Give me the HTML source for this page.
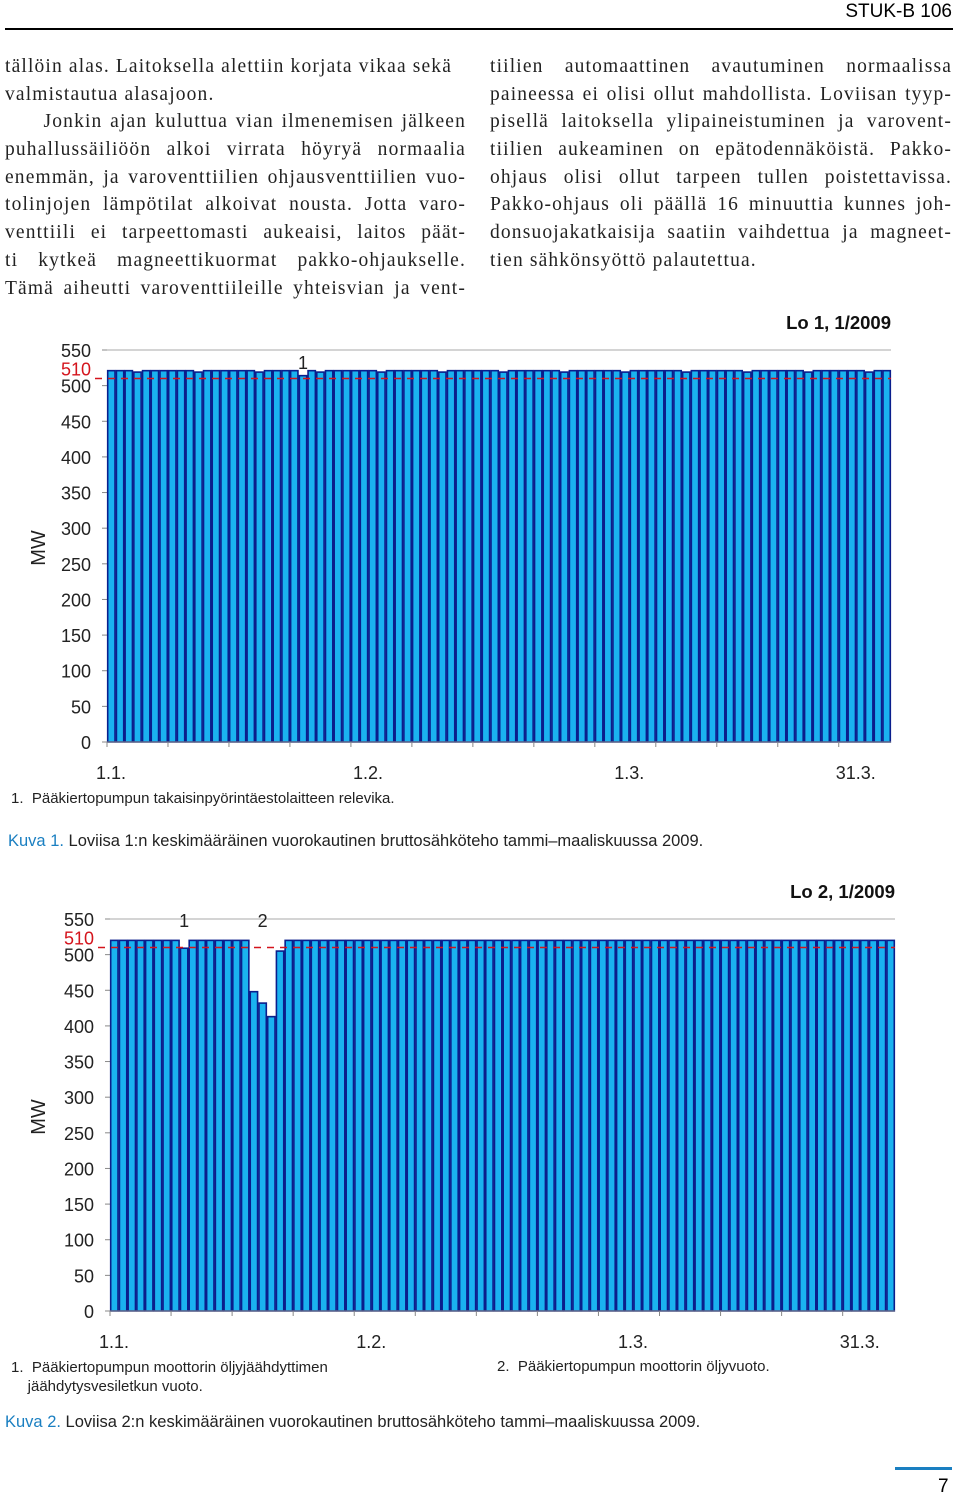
<!DOCTYPE html>
<html><head><meta charset="utf-8"><style>
body{margin:0;width:960px;height:1498px;background:#fff;position:relative;overflow:hidden;font-family:"Liberation Sans",sans-serif}
.t{position:absolute;font-family:"Liberation Serif",serif;font-size:19.5px;letter-spacing:1.15px;line-height:27.7px;color:#222}
.t div{text-align:justify;text-align-last:justify;white-space:nowrap;height:27.7px}
.t div.l{text-align-last:left}
.s{position:absolute;font-size:15px;color:#222}
.cap{position:absolute;font-size:16.5px;color:#222}
.cap b{color:#1a7fc1;font-weight:normal}
svg{position:absolute;left:0;top:0}
</style></head><body>
<div style="position:absolute;right:8px;top:1px;font-size:19px">STUK-B 106</div>
<div style="position:absolute;left:5px;top:28px;width:948px;height:2px;background:#000"></div>
<div class="t" style="left:5px;top:53px;width:461px">
<div class="l">tällöin alas. Laitoksella alettiin korjata vikaa sekä</div>
<div class="l">valmistautua alasajoon.</div>
<div>&nbsp;&nbsp;&nbsp;&nbsp;&nbsp;Jonkin ajan kuluttua vian ilmenemisen jälkeen</div>
<div>puhallussäiliöön alkoi virrata höyryä normaalia</div>
<div>enemmän, ja varoventtiilien ohjausventtiilien vuo-</div>
<div>tolinjojen lämpötilat alkoivat nousta. Jotta varo-</div>
<div>venttiili ei tarpeettomasti aukeaisi, laitos päät-</div>
<div>ti kytkeä magneettikuormat pakko-ohjaukselle.</div>
<div>Tämä aiheutti varoventtiileille yhteisvian ja vent-</div>
</div>
<div class="t" style="left:490px;top:53px;width:462px">
<div>tiilien automaattinen avautuminen normaalissa</div>
<div>paineessa ei olisi ollut mahdollista. Loviisan tyyp-</div>
<div>pisellä laitoksella ylipaineistuminen ja varovent-</div>
<div>tiilien aukeaminen on epätodennäköistä. Pakko-</div>
<div>ohjaus olisi ollut tarpeen tullen poistettavissa.</div>
<div>Pakko-ohjaus oli päällä 16 minuuttia kunnes joh-</div>
<div>donsuojakatkaisija saatiin vaihdettua ja magneet-</div>
<div class="l">tien sähkönsyöttö palautettua.</div>
</div>
<svg id="chart" width="960" height="1498"></svg>
<div class="s" style="left:11px;top:790px">1.&nbsp; Pääkiertopumpun takaisinpyörintäestolaitteen relevika.</div>
<div class="cap" style="left:8px;top:832px"><b>Kuva 1.</b> Loviisa 1:n keskimääräinen vuorokautinen bruttosähköteho tammi–maaliskuussa 2009.</div>
<div class="s" style="left:11px;top:1358px;line-height:19px">1.&nbsp; Pääkiertopumpun moottorin öljyjäähdyttimen<br>&nbsp;&nbsp;&nbsp;&nbsp;jäähdytysvesiletkun vuoto.</div>
<div class="s" style="left:497px;top:1358px">2.&nbsp; Pääkiertopumpun moottorin öljyvuoto.</div>
<div class="cap" style="left:5px;top:1413px"><b>Kuva 2.</b> Loviisa 2:n keskimääräinen vuorokautinen bruttosähköteho tammi–maaliskuussa 2009.</div>
<div style="position:absolute;left:895px;top:1467px;width:57px;height:3px;background:#1a7fc1"></div>
<div style="position:absolute;left:938px;top:1476px;font-size:19px">7</div>
<script>
const yTicks=[0,50,100,150,200,250,300,350,400,450,500,550];
const xLabels=["1.1.","1.2.","1.3.","31.3."];
const xLabelDays=[0,29.5,59.5,85.5];
const lo1=[];for(let i=0;i<90;i++)lo1.push(i===22?514:(i%7===3?519:521));
const lo2=[];for(let i=0;i<90;i++)lo2.push(520);
lo2[8]=509;lo2[16]=448;lo2[17]=432;lo2[18]=413;lo2[19]=505;
const notes1=[[22,"1"]];
const notes2=[[8,"1"],[17,"2"]];
const limit=510;
const NS="http://www.w3.org/2000/svg",svg=document.getElementById('chart');
function el(t,a,txt){const e=document.createElementNS(NS,t);for(const k in a)e.setAttribute(k,a[k]);if(txt!=null)e.textContent=txt;svg.appendChild(e);return e;}
function chart(id,data,notes,x0,x1,y0,yTop,labelX,title,titleY,noteOff){
  const ys=v=>y0-(v/550)*(y0-yTop);
  const bw=(x1-x0)/data.length;const xs=i=>x0+i*bw;
  yTicks.forEach(v=>{
    const t=el('text',{x:labelX,y:ys(v)+7,'text-anchor':'end','font-size':18,fill:'#222','font-family':'Liberation Sans'},v);
    
    const l=el('line',{x1:x0-5,x2:x0,y1:ys(v),y2:ys(v),stroke:'#888'});
    
  });
  const g=el('line',{x1:x0,x2:x1,y1:ys(550),y2:ys(550),stroke:'#aaa'});
  
  const r=el('text',{x:labelX,y:ys(limit)-3,'text-anchor':'end','font-size':18,fill:'#d4141c','font-family':'Liberation Sans'},limit);
  
  data.forEach((v,i)=>{
    const b=el('rect',{x:xs(i)+0.7,y:ys(v),width:bw-1.4,height:y0-ys(v),fill:'#1ab2f0',stroke:'#0a1e8c','stroke-width':1.6});
    
  });
  const d=el('line',{x1:x0-12,x2:x1,y1:ys(limit),y2:ys(limit),stroke:'#d4141c','stroke-width':1.5,'stroke-dasharray':'7,6'});
  
  const ax=el('line',{x1:x0,x2:x1,y1:y0,y2:y0,stroke:'#888'});
  
  for(let i=0;i<=data.length;i+=7){const tk=el('line',{x1:xs(i),x2:xs(i),y1:y0,y2:y0+5,stroke:'#888'});
    }
  xLabels.forEach((s,k)=>{
    const t=el('text',{x:xs(xLabelDays[k])+4,y:y0+37,'text-anchor':'middle','font-size':18,fill:'#222','font-family':'Liberation Sans'},s);
    
  });
  notes.forEach(([i,s])=>{
    const t=el('text',{x:xs(i)+bw/2,y:yTop+noteOff,'text-anchor':'middle','font-size':18,fill:'#222','font-family':'Liberation Sans'},s);
    
  });
  const mw=el('text',{x:0,y:0,'font-size':20,fill:'#222','font-family':'Liberation Sans','text-anchor':'middle',transform:`translate(45,${(y0+yTop)/2+2}) rotate(-90)`},'MW');
  
  const tt=el('text',{x:x1,y:titleY,'text-anchor':'end','font-size':18.5,'font-weight':'bold',fill:'#111','font-family':'Liberation Sans'},title);
  
}
chart('chart1',lo1,notes1,107,891,742,350,91,'Lo 1, 1/2009',329,19);
chart('chart2',lo2,notes2,110,895,1311,919,94,'Lo 2, 1/2009',898,8);
</script>
</body></html>
